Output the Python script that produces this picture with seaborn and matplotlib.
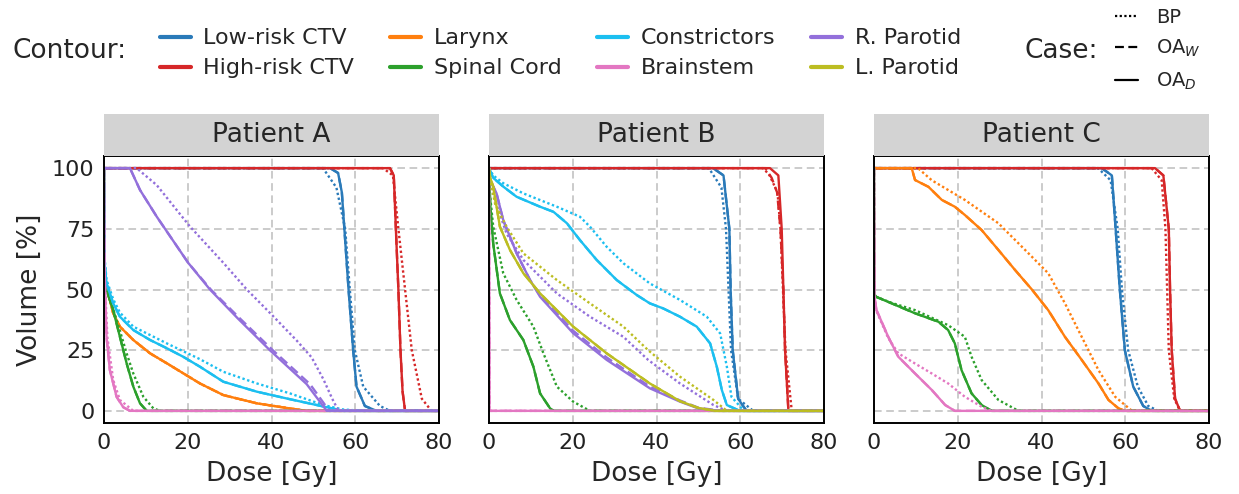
import matplotlib
matplotlib.use("Agg")
import matplotlib.pyplot as plt
from matplotlib.lines import Line2D
import pandas as pd
import seaborn as sns

# categories
PATIENTS = ["Patient A", "Patient B", "Patient C"]
CONTOURS = ["Low-risk CTV", "High-risk CTV", "Larynx", "Spinal Cord",
            "Constrictors", "Brainstem", "R. Parotid", "L. Parotid"]
CASES = ["BP", "OA$_W$", "OA$_D$"]
COLORS = ["#2a7ab9", "#d62728", "#ff7f0e", "#2ca02c",
          "#1cbff0", "#e377c2", "#9370db", "#bcbd22"]

# DVH curves, (dose Gy, volume %)
# --- Patient A ---
A_LOW_OAD = [(0, 100), (54, 100), (55.9, 98), (56.8, 90), (57.4, 75), (58.4, 50), (59.5, 25),
             (60.3, 10), (62.3, 2), (65.1, 0), (80, 0)]
A_LOW_BP = [(0, 100), (52.3, 100), (55.5, 92), (57.6, 75), (58.7, 50), (59.9, 25),
            (61.9, 10), (65.9, 2), (68.3, 0), (80, 0)]
A_HIGH_OAD = [(0, 100), (68.3, 100), (69.2, 97), (69.7, 75), (70.3, 50), (70.8, 25),
              (71.3, 8), (71.9, 0), (80, 0)]
A_HIGH_BP = [(0, 100), (66.6, 100), (69, 97), (70.3, 75), (71.9, 50), (73.5, 25),
             (75.9, 5), (78.2, 0), (80, 0)]
A_LAR_OAD = [(0, 100), (0.2, 58), (0.6, 51), (2.2, 40.2), (3.8, 34.7), (7, 29.2), (11, 23.7),
             (15, 19.6), (18.9, 15.5), (22.9, 11.3), (28.5, 6.5), (36.5, 3.1), (44.4, 1),
             (48.4, 0), (80, 0)]
A_SPC_OAD = [(0, 100), (0.2, 55), (0.6, 49.8), (2.2, 41.5), (3.8, 30.5), (5.4, 19.6), (7, 10),
             (8.6, 3.1), (10.2, 0), (80, 0)]
A_SPC_BP = [(0, 100), (0.2, 55), (0.6, 50), (2.2, 42), (3.8, 33), (5.4, 23.7), (7, 15.4),
            (9.4, 5.8), (11.8, 1), (13.4, 0), (80, 0)]
A_CONS_OAD = [(0, 100), (0.2, 60), (0.6, 52.5), (2.2, 44.3), (3.8, 38.8), (7, 33.3), (11, 29.2),
              (15, 25.8), (18.9, 22.3), (22.9, 18.2), (28.5, 12), (36.5, 7.9), (44.4, 4.8),
              (52.4, 1.8), (57.2, 0), (80, 0)]
A_CONS_BP = [(0, 100), (0.2, 62), (0.6, 54), (2.2, 46), (3.8, 40.5), (7, 34.7), (15, 27.8),
             (22.9, 21.3), (28.5, 16.1), (36.5, 11.3), (44.4, 7.2), (52.4, 2.4), (57, 0.6),
             (61.9, 0), (80, 0)]
A_BRS_OAD = [(0, 100), (0.1, 58), (0.6, 30.5), (1.4, 16.8), (3, 5.8), (4.6, 1.5), (6.2, 0), (80, 0)]
A_BRS_BP = [(0, 100), (0.1, 58), (0.8, 30.5), (2.2, 12.7), (3.8, 4.5), (7, 0), (80, 0)]
A_RPAR_OAD = [(0, 100), (6.2, 100), (8.6, 91), (12.6, 80), (20.1, 61), (25.3, 50), (32, 38),
              (39.6, 25), (48.4, 11), (53.2, 0), (80, 0)]
A_RPAR_OAW = [(0, 100), (6.2, 100), (8.6, 91), (12.6, 80), (20.1, 61), (25.5, 50), (32.5, 38),
              (40.3, 25), (49.2, 11), (53.8, 0), (80, 0)]
A_RPAR_BP = [(0, 100), (7.8, 100), (12.6, 93), (20.5, 76), (28.5, 61), (34.1, 50), (40.4, 39),
             (46, 29), (49.6, 22), (52.4, 13), (54.5, 5), (56, 0), (80, 0)]

# --- Patient B ---
B_LOW_OAD = [(0, 100), (53.5, 100), (56, 97), (57.4, 75), (57.7, 50), (58.2, 25), (59.5, 5),
             (61.5, 0), (80, 0)]
B_LOW_BP = [(0, 100), (52.5, 100), (55.5, 92), (56.6, 75), (57.2, 50), (57.8, 25), (59.5, 5),
            (63.1, 0), (80, 0)]
B_HIGH_OAD = [(0, 100), (67.1, 100), (69.1, 97), (69.9, 75), (70.3, 50), (70.7, 25),
              (71.5, 0), (80, 0)]
B_HIGH_OAW = [(0, 100), (66, 100), (67.5, 96), (68.8, 90), (69.6, 75), (70.3, 50), (70.7, 25),
              (71.5, 0), (80, 0)]
B_HIGH_BP = [(0, 100), (65.5, 100), (67, 97), (68.9, 90), (69.6, 75), (70.2, 50), (70.8, 25),
             (72.3, 0), (80, 0)]
B_SPC_OAD = [(0, 100), (0.3, 85), (1, 69), (2.6, 48.4), (5, 37.4), (8.2, 29.2), (10.6, 18.2),
             (12.2, 7.2), (14.6, 1), (15.5, 0), (80, 0)]
B_SPC_BP = [(0, 100), (0.3, 88), (1, 76), (3.4, 56.7), (6.6, 45.7), (10.6, 34.7), (13, 23.7),
            (16.2, 10), (20.1, 3.8), (24.1, 0), (80, 0)]
B_CONS_OAD = [(0, 100), (1, 96), (3.4, 92.4), (6.6, 88.2), (12.2, 84.1), (15.4, 82),
              (18.6, 77.3), (21.7, 70.4), (25.7, 62.2), (30.5, 53.9), (35.3, 47.7),
              (38.4, 44.3), (41.6, 42.2), (45.6, 38.8), (49.6, 34.7), (52.8, 27.8),
              (54.4, 18.2), (55.6, 8.6), (56.8, 2.4), (59.9, 0), (80, 0)]
B_CONS_BP = [(0, 100), (1, 97), (3.4, 93.8), (8.2, 89.6), (16.2, 84.1), (21.7, 80),
             (24.1, 75.9), (28.1, 67.6), (32.1, 60.8), (38.4, 52.5), (45.6, 45.7),
             (52, 38.8), (55.2, 31.9), (56.8, 18.2), (57.9, 5.8), (60.9, 0), (80, 0)]
B_BRS_OAD = [(0, 100), (0.1, 0), (80, 0)]
B_RPAR_OAD = [(0, 100), (0.3, 95), (1.8, 89.6), (3.4, 78.6), (6.6, 64.9), (9.8, 53.9),
              (12.2, 47), (20.1, 32), (28.1, 21), (38.4, 9.3), (45.6, 3.8), (50, 1),
              (55, 0), (80, 0)]
B_RPAR_OAW = [(0, 100), (0.3, 95), (1.8, 89.6), (3.4, 78.6), (6.6, 64.9), (9.8, 53.9),
              (12.2, 47.5), (20.1, 33), (28.1, 22), (38.4, 10), (45.6, 4.3), (50, 1.3),
              (55.5, 0), (80, 0)]
B_RPAR_BP = [(0, 100), (0.3, 95), (1.8, 85), (4.2, 73), (8.2, 62.2), (16.2, 48.4),
             (24.1, 38.8), (32.1, 30.5), (38, 21), (45.6, 11.3), (53.6, 2.4), (56.8, 0), (80, 0)]
B_LPAR_OAD = [(0, 100), (0.3, 96), (1, 92.4), (2.6, 75.9), (5, 66.3), (8.2, 56.7),
              (12.2, 48.4), (20.1, 34.7), (28.1, 23.7), (38.4, 11.3), (45.6, 4), (50, 1.2),
              (54, 0), (80, 0)]
B_LPAR_BP = [(0, 100), (0.3, 95), (1.5, 85), (4.2, 75.9), (8.2, 64.9), (16.2, 53.9),
             (24.1, 44.3), (32.1, 34.7), (38, 25), (45.6, 14.1), (53.6, 4.5), (56.8, 0), (80, 0)]

# --- Patient C ---
C_LOW_OAD = [(0, 100), (54.4, 100), (56.8, 97), (57.7, 75), (58.7, 50), (59.9, 25),
             (61.9, 10), (64.3, 2), (66.3, 0), (80, 0)]
C_LOW_BP = [(0, 100), (53.5, 100), (56.5, 95), (58.2, 75), (59.2, 50), (60.7, 25), (63, 10),
            (65.5, 2), (67.9, 0), (80, 0)]
C_HIGH_OAD = [(0, 100), (67.1, 100), (69.1, 97), (70.4, 75), (70.7, 50), (71.1, 25),
              (71.9, 5), (73.1, 0), (80, 0)]
C_HIGH_BP = [(0, 100), (66.3, 100), (68.7, 95), (69.6, 75), (70, 50), (70.4, 25), (71.7, 5),
             (73.1, 0), (80, 0)]
C_LAR_OAD = [(0, 100), (9, 100), (9.8, 95.1), (11.4, 93.7), (13, 92.3), (16.2, 86.9),
             (19.3, 84.1), (21.7, 80.7), (25.7, 74.5), (29.7, 66.3), (33.7, 58), (37.7, 50),
             (41.6, 41.5), (45.6, 30.5), (49.6, 21), (53.6, 11.3), (56, 4.5), (58.4, 1),
             (60, 0), (80, 0)]
C_LAR_BP = [(0, 100), (10.5, 100), (13.8, 95), (17.7, 91), (21.7, 86.9), (29.7, 77.3),
            (37.7, 63.5), (41.6, 56.7), (45.6, 44.3), (49.6, 30.5), (53.6, 16.8),
            (57.6, 5.8), (61.6, 0), (80, 0)]
C_SPC_OAD = [(0, 100), (0.1, 48), (0.5, 47), (4.2, 44.3), (9.8, 40.2), (15.4, 36.7),
             (17.7, 33.3), (19.3, 27.8), (20.9, 16.8), (23.3, 7.2), (25.7, 2.4), (28.1, 0), (80, 0)]
C_SPC_BP = [(0, 100), (0.1, 48), (0.5, 47), (4.2, 44.5), (9.8, 41.5), (17.7, 35.3),
            (21.7, 30.5), (23.3, 22.3), (25.7, 12.7), (29.7, 4.5), (34.5, 0), (80, 0)]
C_BRS_OAD = [(0, 100), (0.1, 47), (0.6, 41.5), (3.4, 30.5), (5.8, 22.3), (9.8, 15.4),
             (13.8, 8.6), (17, 2.4), (19.3, 0), (80, 0)]
C_BRS_BP = [(0, 100), (0.1, 47), (0.6, 41), (3.4, 30), (5.8, 23.7), (9.8, 19.5), (13.8, 15.4),
            (17.7, 11.3), (21.7, 5.8), (25.7, 1.7), (28, 0), (80, 0)]

# (patient, contour, BP, OA_W, OA_D); OA_W lies on OA_D unless read separately
CURVES = [
    ("Patient A", "Low-risk CTV", A_LOW_BP, A_LOW_OAD, A_LOW_OAD),
    ("Patient A", "High-risk CTV", A_HIGH_BP, A_HIGH_OAD, A_HIGH_OAD),
    ("Patient A", "Larynx", A_LAR_OAD, A_LAR_OAD, A_LAR_OAD),
    ("Patient A", "Spinal Cord", A_SPC_BP, A_SPC_OAD, A_SPC_OAD),
    ("Patient A", "Constrictors", A_CONS_BP, A_CONS_OAD, A_CONS_OAD),
    ("Patient A", "Brainstem", A_BRS_BP, A_BRS_OAD, A_BRS_OAD),
    ("Patient A", "R. Parotid", A_RPAR_BP, A_RPAR_OAW, A_RPAR_OAD),
    ("Patient B", "Low-risk CTV", B_LOW_BP, B_LOW_OAD, B_LOW_OAD),
    ("Patient B", "High-risk CTV", B_HIGH_BP, B_HIGH_OAW, B_HIGH_OAD),
    ("Patient B", "Spinal Cord", B_SPC_BP, B_SPC_OAD, B_SPC_OAD),
    ("Patient B", "Constrictors", B_CONS_BP, B_CONS_OAD, B_CONS_OAD),
    ("Patient B", "Brainstem", B_BRS_OAD, B_BRS_OAD, B_BRS_OAD),
    ("Patient B", "R. Parotid", B_RPAR_BP, B_RPAR_OAW, B_RPAR_OAD),
    ("Patient B", "L. Parotid", B_LPAR_BP, B_LPAR_OAD, B_LPAR_OAD),
    ("Patient C", "Low-risk CTV", C_LOW_BP, C_LOW_OAD, C_LOW_OAD),
    ("Patient C", "High-risk CTV", C_HIGH_BP, C_HIGH_OAD, C_HIGH_OAD),
    ("Patient C", "Larynx", C_LAR_BP, C_LAR_OAD, C_LAR_OAD),
    ("Patient C", "Spinal Cord", C_SPC_BP, C_SPC_OAD, C_SPC_OAD),
    ("Patient C", "Brainstem", C_BRS_BP, C_BRS_OAD, C_BRS_OAD),
]

rows = []
for patient, contour, *per_case in CURVES:
    for case, pts in zip(CASES, per_case):
        for dose, vol in pts:
            rows.append({"Patient": patient, "Contour": contour, "Case": case,
                         "Dose": dose, "Volume": vol})
dvh_df = pd.DataFrame(rows)

palette = dict(zip(CONTOURS, COLORS))
dashes = {"BP": (1, 1.1), "OA$_W$": (4, 2), "OA$_D$": ""}

sns.set_style("white")
plt.rcParams["font.family"] = ["DejaVu Sans"]

W, H = 1239, 494
fig = plt.figure(figsize=(W / 100, H / 100), dpi=100)

lefts = [104, 489, 874]
ax_w, ax_top, ax_bottom, strip_top = 335, 156, 423, 114

for i, (patient, left) in enumerate(zip(PATIENTS, lefts)):
    ax = fig.add_axes([left / W, 1 - ax_bottom / H, ax_w / W, (ax_bottom - ax_top) / H])
    sns.lineplot(data=dvh_df[dvh_df["Patient"] == patient], x="Dose", y="Volume",
                 hue="Contour", style="Case", hue_order=CONTOURS, style_order=CASES,
                 palette=palette, dashes=dashes, estimator=None, sort=False,
                 linewidth=1.7, legend=False, ax=ax)
    ax.set_xlim(0, 80)
    ax.set_ylim(-5, 105)
    ax.set_xticks([0, 20, 40, 60, 80])
    ax.set_yticks([0, 25, 50, 75, 100])
    ax.grid(True, linestyle=(0, (5, 3)), color="#bdbdbd", linewidth=1.1)
    ax.set_axisbelow(True)
    ax.tick_params(direction="in", length=5, width=1.2, labelsize=16, pad=7, colors="#222222")
    for sp in ax.spines.values():
        sp.set_linewidth(1.4)
        sp.set_color("black")
    ax.set_xlabel("Dose [Gy]", fontsize=19, labelpad=6)
    if i == 0:
        ax.set_ylabel("Volume [%]", fontsize=19, labelpad=6)
    else:
        ax.set_ylabel("")
        ax.set_yticklabels([])

    # grey facet header
    strip = fig.add_axes([left / W, 1 - ax_top / H, ax_w / W, (ax_top - strip_top) / H])
    strip.set_facecolor("#d3d3d3")
    strip.set_xticks([])
    strip.set_yticks([])
    for sp in strip.spines.values():
        sp.set_visible(False)
    strip.text(0.5, 0.5, patient, ha="center", va="center", fontsize=19,
               transform=strip.transAxes)

# legends
contour_handles = [Line2D([], [], color=c, lw=3) for c in COLORS]
fig.text(12 / W, 1 - 51 / H, "Contour:", fontsize=19, ha="left", va="center")
fig.legend(contour_handles, CONTOURS, ncol=4, loc="center left",
           bbox_to_anchor=(160 / W, 1 - 53.5 / H), frameon=False, fontsize=16,
           handlelength=1.4, handletextpad=0.55, columnspacing=1.62,
           labelspacing=0.45, borderpad=0, borderaxespad=0)

case_handles = [Line2D([], [], color="black", lw=1.6, dashes=dashes[c]) if dashes[c]
                else Line2D([], [], color="black", lw=1.6) for c in CASES]
fig.text(1025 / W, 1 - 51 / H, "Case:", fontsize=19, ha="left", va="center")
fig.legend(case_handles, CASES, loc="center left", bbox_to_anchor=(1115 / W, 1 - 50 / H),
           frameon=False, fontsize=14, handlelength=1.2, handletextpad=0.9,
           labelspacing=0.6, borderpad=0, borderaxespad=0)

fig.savefig("out.png", dpi=100)
